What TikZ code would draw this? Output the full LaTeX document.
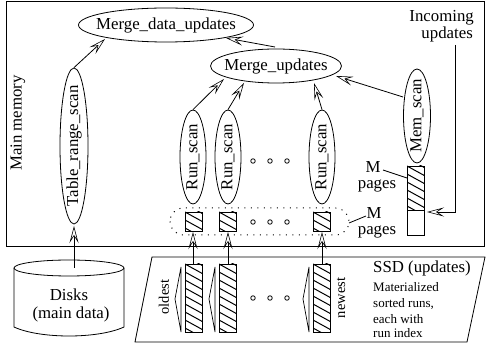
\documentclass[tikz,border=0pt]{standalone}
\usepackage{fontspec}
\setmainfont{Liberation Serif}
\usetikzlibrary{arrows.meta,shapes.geometric}
\tikzset{
  x=1pt,y=-1pt,
  ln/.style={line width=0.8pt,black},
  oval/.style={draw,ellipse,ln,inner sep=0pt,minimum width=#1},
  openarrow/.style={ln,-{Stealth[length=17pt,width=9pt,inset=7pt,fill=white,line width=0.6pt]}},
  lab/.style={font=\fontsize{16.8}{16.8}\selectfont,inner sep=0pt},
  mid/.style={font=\fontsize{14.5}{14.5}\selectfont,inner sep=0pt},
  small/.style={font=\fontsize{13}{13}\selectfont,inner sep=0pt,anchor=west},
  dotc/.style={draw,circle,ln,inner sep=0pt,minimum size=4.5pt},
}
\newcommand{\hatchbox}[4]{%
  \begin{scope}
    \clip (#1,#2) rectangle (#3,#4);
    \foreach \k in {-80,-72,...,80} {\draw[ln,line width=1pt] (#1,#2+\k) -- (#1+100,#2+\k+55);}
  \end{scope}
  \draw[ln] (#1,#2) rectangle (#3,#4);}
\newcommand{\thinarrow}[3]{\draw[ln,line width=0.7pt] (#1,#2) -- (#1-6,#2+32) -- (#1,#2+65) -- cycle;}
\begin{document}
\begin{tikzpicture}
\useasboundingbox (0,0) rectangle (488,347);
\fill[white] (0,0) rectangle (488,347);
\node[draw,ln,line width=1pt,rectangle,minimum width=478pt,minimum height=245pt,inner sep=0pt,anchor=north west] (mem) at (6,1) {};
\node[lab,rotate=90] (mm) at (18,123) {Main memory};
\node[oval=175pt,minimum height=34pt] (mdu) at (166,25) {};
\node[lab] (mdut) at (mdu.center) {Merge\_data\_updates};
\node[oval=131pt,minimum height=34pt] (mu) at (276,66) {};
\node[lab] (mut) at (mu.center) {Merge\_updates};
\node[oval=156pt,minimum height=28pt,rotate=90] (trs) at (74,146) {};
\node[lab,rotate=90] (trst) at (trs.center) {Table\_range\_scan};
\node[oval=94pt,minimum height=26pt,rotate=90] (r1) at (193,157) {};
\node[lab,rotate=90] (r1t) at (r1.center) {Run\_scan};
\node[oval=94pt,minimum height=26pt,rotate=90] (r2) at (228,157) {};
\node[lab,rotate=90] (r2t) at (r2.center) {Run\_scan};
\node[oval=94pt,minimum height=26pt,rotate=90] (r3) at (322,157) {};
\node[lab,rotate=90] (r3t) at (r3.center) {Run\_scan};
\node[oval=94pt,minimum height=27pt,rotate=90] (ms) at (417,116) {};
\node[lab,rotate=90] (mst) at (ms.center) {Mem\_scan};
\coordinate (a1) at (105,39); \coordinate (a2) at (224,79); \coordinate (a3) at (244,83);
\coordinate (a4) at (314,83); \coordinate (a5) at (336,76); \coordinate (a6) at (226,38);
\draw[openarrow] (trs.east) -- (a1);
\draw[openarrow] (r1.east) -- (a2);
\draw[openarrow] (r2.east) -- (a3);
\draw[openarrow] (r3.east) -- (a4);
\coordinate (s5) at (403,97); \coordinate (s6) at (275,47);
\draw[openarrow] (s5) -- (a5);
\draw[openarrow] (s6) -- (a6);
% pages row
\draw[ln,line width=1pt,dash pattern=on 1pt off 5.5pt,rounded corners=13.5pt] (170,208) rectangle (349,235);
\hatchbox{185}{212}{202}{231}
\hatchbox{219}{212}{236}{231}
\hatchbox{313}{212}{330}{231}
\foreach \x in {253,270,287} {
  \node[dotc] (d\x a) at (\x,161) {};
  \node[dotc] (d\x b) at (\x,222) {};
  \node[dotc] (d\x c) at (\x,298) {};
}
% memory pages
\hatchbox{407}{166}{424}{210}
\draw[ln] (407,210) rectangle (424,235);
\node[lab,anchor=east] (inc1) at (474,18) {Incoming};
\node[lab,anchor=east] (inc2) at (473,34) {updates};
\coordinate (i0) at (455,45); \coordinate (i1) at (455,212); \coordinate (i2) at (427,212);
\draw[openarrow] (i0) -- (i1) -- (i2);
\node[lab] (m1) at (373,167) {M};
\node[lab] (p1) at (377,186) {pages};
\node[lab] (m2) at (374,213) {M};
\node[lab] (p2) at (377,232) {pages};
\coordinate (l1) at (383,170); \coordinate (l2) at (407,178);
\coordinate (l3) at (349,223); \coordinate (l4) at (366,216);
\draw[ln] (l1) -- (l2);
\draw[ln] (l3) -- (l4);
% disk
\draw[ln,fill=white] (14,268) -- (14,327) .. controls (40,339) and (98,339) .. (124,327) -- (124,268);
\draw[ln,fill=white] (69,268) ellipse [x radius=55, y radius=8];
\node[lab] (dk1) at (69,295) {Disks};
\node[lab] (dk2) at (71,314) {(main data)};
\coordinate (dt) at (74,268); \coordinate (dh) at (74,226);
\draw[openarrow] (dt) -- (dh);
% SSD
\draw[ln] (152,257) -- (485,257) -- (467,342) -- (135,342) -- cycle;
\node[lab,anchor=west] (ssd) at (373,268) {SSD (updates)};
\node[small] (t1) at (373,287) {Materialized};
\node[small] (t2) at (373,304) {sorted runs,};
\node[small] (t3) at (373,319) {each with};
\node[small] (t4) at (373,333) {run index};
\node[mid,rotate=90] (old) at (164,297) {oldest};
\node[mid,rotate=90] (new) at (341,298) {newest};
\hatchbox{185}{264}{202}{332}
\hatchbox{219}{264}{236}{332}
\hatchbox{313}{264}{330}{332}
\thinarrow{181}{267}{}
\thinarrow{215}{267}{}
\thinarrow{309}{267}{}
\coordinate (s1) at (193,264); \coordinate (e1) at (193,232);
\coordinate (s2) at (228,264); \coordinate (e2) at (228,232);
\coordinate (s3) at (322,264); \coordinate (e3) at (322,232);
\draw[openarrow] (s1) -- (e1);
\draw[openarrow] (s2) -- (e2);
\draw[openarrow] (s3) -- (e3);
\end{tikzpicture}
\end{document}
